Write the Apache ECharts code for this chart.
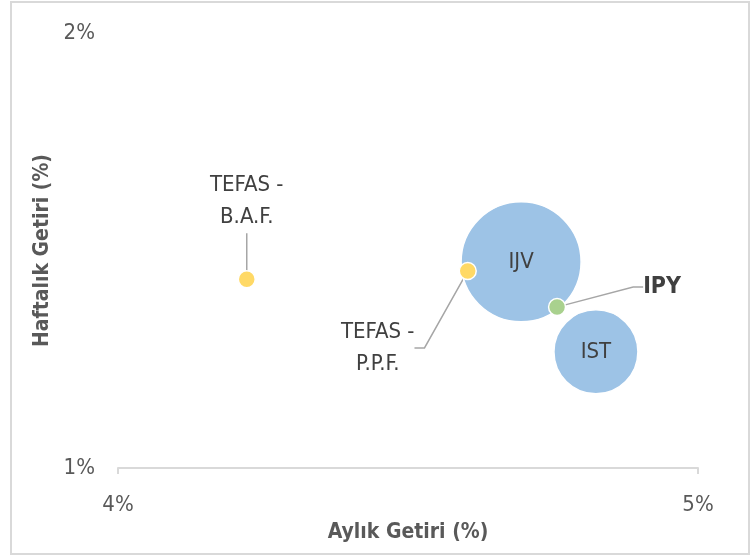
<!DOCTYPE html>
<html>
<head>
<meta charset="utf-8">
<script src="https://cdn.jsdelivr.net/npm/echarts@6/dist/echarts.min.js"></script>
<style>
  html, body { margin: 0; padding: 0; background: #fff; }
  #frame { position: absolute; left: 10px; top: 1px; width: 736px; height: 550px; border: 2px solid #d9d9d9; }
  #chart { position: absolute; left: 0; top: 0; width: 751px; height: 557px; }
</style>
</head>
<body>
<div id="frame"></div>
<div id="chart"></div>
<script>
// fon adları, aylık / haftalık getiri (%), balon büyüklüğü
const names = ['IJV', 'IST', 'TEFAS -\nB.A.F.', 'TEFAS -\nP.P.F.', 'IPY']
const monthly = [4.695, 4.824, 4.222, 4.603, 4.757]
const weekly = [1.474, 1.267, 1.434, 1.453, 1.370]
const bubble = [100, 49, 2, 2, 2]

const xTicks = [4, 5]
const yTicks = [1, 2]

const colors = ['#9dc3e6', '#9dc3e6', '#ffd966', '#ffd966', '#a9d18e']
// etiket kaydırmaları (dx, dy) - sadece dışarıdaki etiketler
const labelShift = [null, null, [0, -78], [-90, 77], [105, -20]]

const font = '"DejaVu Sans Condensed", "Liberation Sans Narrow", "Roboto", sans-serif'

const chart = echarts.init(document.getElementById('chart'))

const data = names.map((n, i) => {
  const outside = labelShift[i] !== null
  return {
    name: n,
    value: [monthly[i], weekly[i], bubble[i]],
    itemStyle: { color: colors[i] },
    label: {
      show: true,
      position: 'inside',
      formatter: '{b}',
      fontWeight: n === 'IPY' ? 'bold' : 'normal',
      fontSize: n === 'IPY' ? 23 : 22,
      lineHeight: 32
    },
    labelLine: {
      show: outside,
      length2: n === 'TEFAS -\nB.A.F.' ? 0 : 10,
      lineStyle: { color: '#a6a6a6', width: 1.5 }
    }
  }
})

chart.setOption({
  animation: false,
  textStyle: { fontFamily: font },
  grid: { left: 118, right: 53, top: 33, bottom: 89 },
  xAxis: {
    type: 'value',
    min: xTicks[0],
    max: xTicks[xTicks.length - 1],
    interval: 1,
    name: 'Aylık Getiri (%)',
    nameLocation: 'middle',
    nameGap: 54,
    nameTextStyle: { fontFamily: font, fontSize: 21, fontWeight: 'bold', color: '#595959' },
    axisLine: { lineStyle: { color: '#d9d9d9', width: 2 } },
    axisTick: { show: true, length: 6, lineStyle: { color: '#d9d9d9', width: 2 } },
    splitLine: { show: false },
    axisLabel: { margin: 26, fontSize: 22, color: '#595959', formatter: v => v + '%' }
  },
  yAxis: {
    type: 'value',
    min: yTicks[0],
    max: yTicks[yTicks.length - 1],
    interval: 1,
    name: 'Haftalık Getiri (%)',
    nameLocation: 'middle',
    nameGap: 62,
    nameTextStyle: { fontFamily: font, fontSize: 21, fontWeight: 'bold', color: '#595959' },
    axisLine: { show: false },
    axisTick: { show: false },
    splitLine: { show: false },
    axisLabel: { margin: 23, fontSize: 22, color: '#595959', formatter: v => v + '%' }
  },
  series: [{
    type: 'scatter',
    data: data,
    symbolSize: val => Math.sqrt(val[2]) * 12,
    itemStyle: { borderColor: '#fff', borderWidth: 1.5, opacity: 1 },
    label: { fontFamily: font, color: '#404040' },
    labelLayout: params => {
      const s = labelShift[params.dataIndex]
      return s ? { dx: s[0], dy: s[1] } : {}
    }
  }]
})
</script>
</body>
</html>
